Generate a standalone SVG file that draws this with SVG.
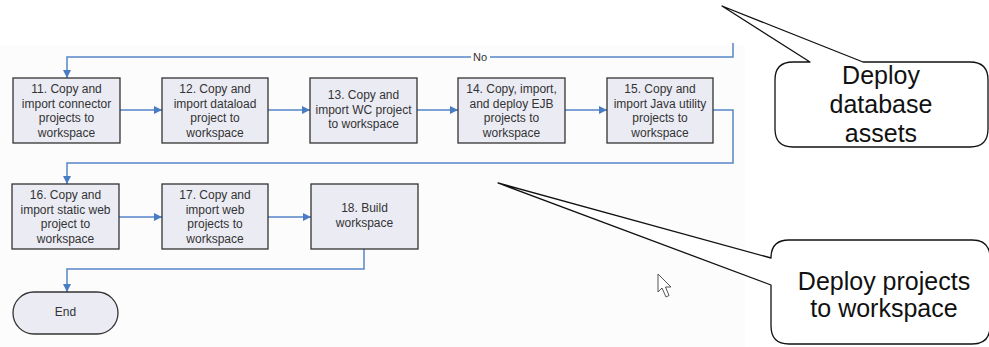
<svg xmlns="http://www.w3.org/2000/svg" width="989" height="347" viewBox="0 0 989 347">
  <style>
    .step rect, .step path { fill: #ebebf3; stroke: #333333; stroke-width: 1.3; }
    .step text { font-family: "Liberation Sans", Arial, sans-serif; font-size: 12px; fill: #333333; text-anchor: middle; }
    .conn { fill: none; stroke: #5585c8; stroke-width: 1.5; }
    .bubble path { fill: #ffffff; stroke: #111111; stroke-width: 1.3; stroke-linejoin: round; }
    .bubble text { font-family: "Liberation Sans", Arial, sans-serif; font-size: 25px; fill: #111111; text-anchor: middle; }
    .label { font-family: "Liberation Sans", Arial, sans-serif; font-size: 11px; fill: #333333; text-anchor: middle; }
  </style>
  <defs>
    <marker id="arrow" viewBox="0 0 10 10" refX="10" refY="5" markerWidth="8" markerHeight="8" markerUnits="userSpaceOnUse" orient="auto">
      <path d="M0,0 L10,5 L0,10 Z" fill="#4a7cc4"/>
    </marker>
  </defs>

  <rect x="0" y="0" width="989" height="347" fill="#ffffff"/>
  <rect x="0" y="45" width="745" height="302" fill="#fcfcfc"/>

  <!-- connectors -->
  <g id="connectors">
    <path class="conn" d="M733,43 V57 H67 V78" marker-end="url(#arrow)"/>
    <path class="conn" d="M120,110 H162" marker-end="url(#arrow)"/>
    <path class="conn" d="M268,110 H310" marker-end="url(#arrow)"/>
    <path class="conn" d="M417,110 H458" marker-end="url(#arrow)"/>
    <path class="conn" d="M565,110 H607" marker-end="url(#arrow)"/>
    <path class="conn" d="M713,110 H733 V163 H67 V184" marker-end="url(#arrow)"/>
    <path class="conn" d="M119,217 H162" marker-end="url(#arrow)"/>
    <path class="conn" d="M268,217 H311" marker-end="url(#arrow)"/>
    <path class="conn" d="M364,249 V269 H67 V292" marker-end="url(#arrow)"/>
    <rect x="471" y="50" width="19" height="13" fill="#fcfcfc"/>
    <text class="label" x="480" y="61">No</text>
  </g>

  <!-- row 1 -->
  <g id="step11" class="step">
    <rect x="13" y="78" width="107" height="65"/>
    <text x="66.5" y="93">11. Copy and</text>
    <text x="66.5" y="107.5">import connector</text>
    <text x="66.5" y="122">projects to</text>
    <text x="66.5" y="136.5">workspace</text>
  </g>
  <g id="step12" class="step">
    <rect x="162" y="78" width="106" height="65"/>
    <text x="215" y="93">12. Copy and</text>
    <text x="215" y="107.5">import dataload</text>
    <text x="215" y="122">project to</text>
    <text x="215" y="136.5">workspace</text>
  </g>
  <g id="step13" class="step">
    <rect x="310" y="78" width="107" height="65"/>
    <text x="363.5" y="99">13. Copy and</text>
    <text x="363.5" y="113.5">import WC project</text>
    <text x="363.5" y="128">to workspace</text>
  </g>
  <g id="step14" class="step">
    <rect x="458" y="78" width="107" height="65"/>
    <text x="511.5" y="93">14. Copy, import,</text>
    <text x="511.5" y="107.5">and deploy EJB</text>
    <text x="511.5" y="122">projects to</text>
    <text x="511.5" y="136.5">workspace</text>
  </g>
  <g id="step15" class="step">
    <rect x="607" y="78" width="106" height="65"/>
    <text x="660" y="93">15. Copy and</text>
    <text x="660" y="107.5">import Java utility</text>
    <text x="660" y="122">projects to</text>
    <text x="660" y="136.5">workspace</text>
  </g>

  <!-- row 2 -->
  <g id="step16" class="step">
    <rect x="12" y="184" width="107" height="65"/>
    <text x="65.5" y="199">16. Copy and</text>
    <text x="65.5" y="213.5">import static web</text>
    <text x="65.5" y="228">project to</text>
    <text x="65.5" y="242.5">workspace</text>
  </g>
  <g id="step17" class="step">
    <rect x="162" y="184" width="106" height="65"/>
    <text x="215" y="199">17. Copy and</text>
    <text x="215" y="213.5">import web</text>
    <text x="215" y="228">projects to</text>
    <text x="215" y="242.5">workspace</text>
  </g>
  <g id="step18" class="step">
    <rect x="311" y="184" width="107" height="65"/>
    <text x="364.5" y="212">18. Build</text>
    <text x="364.5" y="226.5">workspace</text>
  </g>
  <g id="end" class="step">
    <rect x="13" y="292" width="105" height="42" rx="21" ry="21"/>
    <text x="65.5" y="316">End</text>
  </g>

  <!-- callouts -->
  <g id="callout-database" class="bubble">
    <path d="M810,62 L722,6 L863,62 L970,62 Q988,62 988,80 L988,129 Q988,147 970,147 L793,147 Q775,147 775,129 L775,80 Q775,62 793,62 Z"/>
    <text x="881" y="84">Deploy</text>
    <text x="881" y="113">database</text>
    <text x="881" y="142">assets</text>
  </g>
  <g id="callout-projects" class="bubble">
    <path d="M771,258 L498,183 L771,285 L771,326 Q771,344 789,344 L972,344 Q990,344 990,326 L990,258 Q990,240 972,240 L789,240 Q771,240 771,258 Z"/>
    <text x="884" y="290">Deploy projects</text>
    <text x="884" y="317">to workspace</text>
  </g>

  <!-- mouse pointer -->
  <path d="M658,274 L658,292 L662,288 L666,297 L669,295.5 L665.5,287 L671,287 Z" fill="#ffffff" stroke="#555555" stroke-width="1" stroke-linejoin="round"/>
</svg>
